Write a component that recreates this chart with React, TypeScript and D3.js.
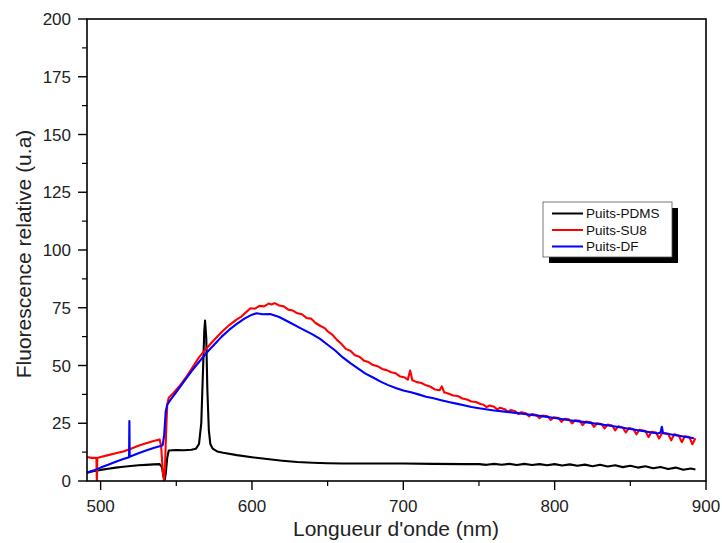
import React from "react";
import * as d3 from "d3";

const xTicks = [500, 600, 700, 800, 900];
const xMinor = [550, 650, 750, 850];
const yTicks = [0, 25, 50, 75, 100, 125, 150, 175, 200];
const yMinor = [12.5, 37.5, 62.5, 87.5, 112.5, 137.5, 162.5, 187.5];

const seriesNames = ["Puits-PDMS", "Puits-SU8", "Puits-DF"];
const seriesColors = ["#000000", "#ff0000", "#0000ff"];

const pdms: [number, number][] = [
  [491, 3.6], [495, 4.2], [500, 4.8], [505, 5.3], [510, 5.8], [515, 6.2], [520, 6.5],
  [525, 6.8], [530, 7.0], [535, 7.2], [539, 7.3], [540.5, 6], [541.5, 2], [542.3, 0.5],
  [543, 3], [544, 10], [545, 13.2], [550, 13.4], [555, 13.3], [560, 13.5], [563, 14],
  [565, 16], [566.5, 25], [567.5, 45], [568.5, 65], [569, 69.5], [569.8, 62], [570.5, 40],
  [571.5, 22], [572.5, 16], [574, 14], [577, 12.8], [581, 12.2], [590, 11.2], [600, 10.3],
  [610, 9.5], [620, 8.8], [630, 8.2], [640, 7.9], [650, 7.7], [660, 7.6], [680, 7.6],
  [700, 7.6], [720, 7.4], [740, 7.3], [750, 7.3], [755, 7.0], [760, 7.4], [765, 7.0],
  [770, 7.4], [775, 6.9], [780, 7.4], [785, 6.9], [790, 7.3], [795, 6.8], [800, 7.3],
  [805, 6.7], [810, 7.2], [815, 6.6], [820, 7.1], [825, 6.4], [830, 7.0], [835, 6.3],
  [840, 6.8], [845, 6.0], [850, 6.6], [855, 5.8], [860, 6.4], [865, 5.5], [870, 6.1],
  [875, 5.2], [880, 5.8], [885, 4.9], [890, 5.4], [893, 5.0],
];

const su8: [number, number][] = [
  [491, 10.4], [494, 10], [497.2, 10], [497.5, 0], [497.8, 10], [500, 10.4], [505, 11.2],
  [510, 12], [515, 12.8], [520, 14], [525, 15.3], [530, 16.3], [535, 17.3], [539, 18],
  [540, 15], [541, 5], [541.8, 0.5], [542.5, 5], [543.2, 20], [544, 33], [545, 36],
  [548, 38], [552, 41], [556, 44.5], [560, 48.5], [565, 53.5], [570, 57.5], [575, 61],
  [580, 64.5], [585, 67.5], [590, 70], [593, 71.2], [596, 73.0], [599, 74.8], [602, 74.6],
  [605, 75.8], [608, 75.6], [611, 76.8], [613, 76.4], [615, 77.0], [618, 76.0], [621, 75.6],
  [624, 74.2], [627, 73.8], [630, 72.6], [633, 72.2], [636, 70.6], [639, 70.3], [642, 68.4],
  [645, 67.2], [648, 66.2], [650, 64.8], [653, 63.4], [656, 61.2], [659, 59.4], [662, 57.2],
  [665, 56.4], [668, 54.4], [671, 53.8], [674, 52.1], [677, 51.5], [680, 50.2], [683, 49.7],
  [686, 48.5], [689, 48.0], [692, 47.1], [695, 46.6], [698, 45.2], [701, 44.8], [703, 43.9],
  [704.5, 47.8], [706, 43.6], [709, 42.8], [712, 42.4], [715, 41.4], [718, 40.8], [721, 39.6],
  [724, 39.3], [725.5, 41.0], [727, 38.4], [730, 37.8], [733, 37.0], [736, 36.8], [739, 35.7],
  [742, 35.3], [745, 34.4], [748, 34.2], [751, 33.3], [753, 33.0], [755, 32.0], [757, 32.7],
  [760, 32.1], [762, 31.0], [764, 31.7], [767, 31.1], [769, 30.0], [771, 30.7], [774, 30.2],
  [776, 29.0], [778, 29.8], [781, 29.3], [783, 28.0], [785, 29.0], [788, 28.6], [790, 27.2],
  [792, 28.3], [795.5, 28.0], [797.5, 26.4], [799.5, 27.6], [802.5, 27.3], [804.5, 25.6],
  [806.5, 26.9], [809.5, 26.7], [811.5, 24.9], [813.5, 26.3], [816.5, 26.1], [818.5, 24.2],
  [820.5, 25.7], [824, 25.4], [826, 23.4], [828, 25.0], [831, 24.7], [833, 22.8], [835, 24.4],
  [838, 24.0], [840, 21.9], [842, 23.7], [845, 23.2], [847, 21.0], [849, 22.9], [852, 22.5],
  [854, 20.2], [856, 22.2], [860, 21.6], [862, 19.0], [864, 21.3], [867, 21.0], [869, 18.4],
  [871, 20.8], [875, 20.4], [877, 17.6], [879, 20.2], [882, 19.7], [884, 16.8], [886, 19.4],
  [889, 19.0], [891, 15.9], [893, 18.5],
];

const df: [number, number][] = [
  [491, 3.6], [495, 4.5], [500, 5.8], [505, 7], [510, 8.3], [515, 9.5], [518.8, 10.3],
  [519, 26], [519.2, 10.5], [520, 10.7], [525, 12], [530, 13.2], [535, 14.3], [539, 15],
  [541, 15.5], [542, 20], [543, 30], [544, 33], [546, 35], [550, 38.5], [555, 43],
  [560, 47.5], [565, 51.5], [570, 55.5], [575, 59], [580, 62.5], [585, 65.5], [590, 68],
  [595, 70.3], [600, 72], [603, 72.6], [607, 72.2], [612, 72.3], [618, 71], [625, 68.6],
  [632, 66.2], [640, 63.5], [645, 61.5], [650, 59], [655, 56.5], [660, 53.5], [665, 51],
  [670, 48.8], [675, 46.5], [680, 44.8], [685, 43], [690, 41.5], [695, 40.3], [700, 39.2],
  [705, 38.4], [710, 37.5], [715, 36.5], [720, 35.8], [725, 35], [730, 34.2], [735, 33.5],
  [740, 32.8], [745, 32], [750, 31.5], [760, 30.5], [770, 29.8], [780, 29], [790, 28.2],
  [800, 27.3], [810, 26.3], [820, 25.5], [830, 24.6], [840, 23.6], [850, 22.5], [860, 21.4],
  [868, 20.6], [870, 21], [870.8, 23.5], [871.6, 20.8], [880, 19.8], [892, 18.5],
];

const seriesData = [pdms, su8, df];

export default function App() {
  const W = 722, H = 543;
  const left = 87, right = 706, top = 19, bottom = 481;
  const x = d3.scaleLinear().domain([491, 900]).range([left, right]);
  const y = d3.scaleLinear().domain([0, 200]).range([bottom, top]);
  const line = d3.line<[number, number]>().x(d => x(d[0])).y(d => y(d[1]));
  const font = "Liberation Sans, Arial, sans-serif";
  const lg = { x: 543, y: 202, w: 129, h: 55 };
  return (
    <svg width={W} height={H} style={{ position: "absolute", left: 0, top: 0, background: "#fff" }}>
      <defs>
        <clipPath id="plot">
          <rect x={left} y={top} width={right - left} height={bottom - top} />
        </clipPath>
      </defs>
      <g clipPath="url(#plot)">
        {seriesData.map((s, i) => (
          <path key={i} d={line(s) || ""} fill="none" stroke={seriesColors[i]} strokeWidth={2.1} strokeLinejoin="round" />
        ))}
      </g>
      <rect x={left} y={top} width={right - left} height={bottom - top} fill="none" stroke="#000" strokeWidth={1.6} />
      {xTicks.map(t => (
        <g key={t}>
          <line x1={x(t)} x2={x(t)} y1={bottom} y2={bottom + 9} stroke="#000" strokeWidth={1.4} />
          <text x={x(t)} y={512} textAnchor="middle" fontFamily={font} fontSize={17} fill="#222">{t}</text>
        </g>
      ))}
      {xMinor.map(t => (
        <line key={t} x1={x(t)} x2={x(t)} y1={bottom} y2={bottom + 5} stroke="#000" strokeWidth={1.2} />
      ))}
      {yTicks.map(t => (
        <g key={t}>
          <line x1={left - 9} x2={left} y1={y(t)} y2={y(t)} stroke="#000" strokeWidth={1.4} />
          <text x={left - 16} y={y(t) + 6} textAnchor="end" fontFamily={font} fontSize={17} fill="#222">{t}</text>
        </g>
      ))}
      {yMinor.map(t => (
        <line key={t} x1={left - 5} x2={left} y1={y(t)} y2={y(t)} stroke="#000" strokeWidth={1.2} />
      ))}
      <text x={396} y={536} textAnchor="middle" fontFamily={font} fontSize={21} fill="#222">Longueur d'onde (nm)</text>
      <text transform={`translate(31, 254) rotate(-90)`} textAnchor="middle" fontFamily={font} fontSize={21} fill="#222">Fluorescence relative (u.a)</text>
      <rect x={lg.x + 6} y={lg.y + 6} width={lg.w} height={lg.h} fill="#000" />
      <rect x={lg.x} y={lg.y} width={lg.w} height={lg.h} fill="#fff" stroke="#555" strokeWidth={0.8} />
      {seriesNames.map((n, i) => (
        <g key={n}>
          <line x1={lg.x + 9} x2={lg.x + 40} y1={lg.y + 11.5 + i * 16.5} y2={lg.y + 11.5 + i * 16.5} stroke={seriesColors[i]} strokeWidth={2} />
          <text x={lg.x + 43} y={lg.y + 16 + i * 16.5} fontFamily={font} fontSize={13.5} fill="#111">{n}</text>
        </g>
      ))}
    </svg>
  );
}
